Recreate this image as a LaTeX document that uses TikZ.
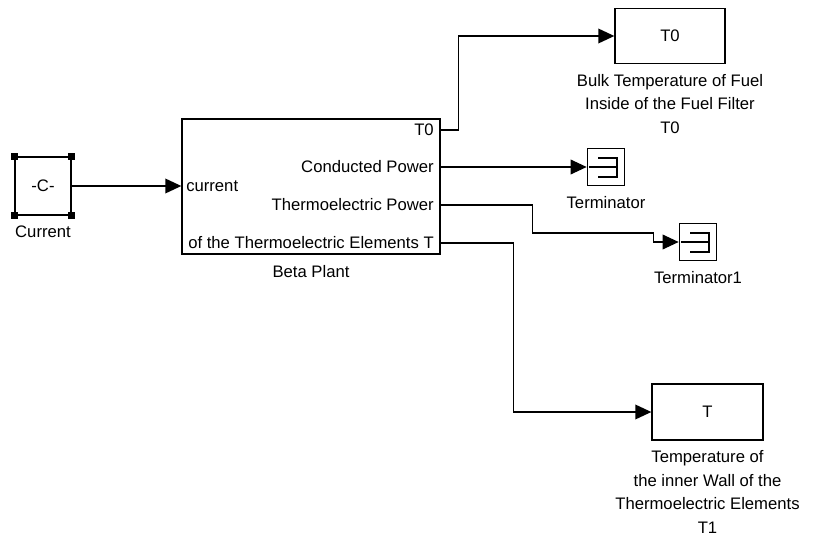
\documentclass[tikz,border=0pt]{standalone}
\usepackage{fontspec}
\setmainfont{Liberation Sans}
\usetikzlibrary{positioning,arrows.meta,calc}
\newcommand{\simfont}{\fontsize{12.5}{17.6}\selectfont}
\tikzset{
  blk/.style     ={draw, line width=1pt, inner sep=0pt, font=\simfont},
  blklbl/.style  ={font=\simfont, align=center, inner sep=0pt},
  portlbl/.style ={font=\simfont, inner sep=0pt},
  handle/.style  ={fill=black, inner sep=0pt, minimum size=5pt},
  sigarr/.style  ={-{Triangle[length=12pt,width=11pt]}, line width=1pt},
  termicon/.style={line width=0.8pt},
}

\begin{document}
\begin{tikzpicture}[x=0.75pt, y=-0.75pt, node distance=7.5pt]
\useasboundingbox[fill=white] (0,0) rectangle (818,539);

\node[blk, minimum width=42pt, minimum height=43.5pt] (cur) at (43,186) {-C-};
\node[blk, minimum width=193.5pt, minimum height=101.25pt] (beta) at (311,186.5) {};
\node[blk, minimum width=82.5pt, minimum height=41.25pt] (t0blk) at (670,36) {T0};
\node[blk, minimum size=28pt] (term) at (606,167) {};
\node[blk, minimum size=28pt] (term1) at (698,242) {};
\node[blk, minimum width=83.25pt, minimum height=42pt] (tblk) at (707.5,412) {T};

\foreach \a in {north west,north east,south west,south east}
  \node[handle] at (cur.\a) {};
\foreach \t in {term,term1} {
  \draw[termicon] ($(\t.center)+(-8,-9)$) -- ++(19,0) -- ++(0,19) -- ++(-19,0);
  \draw[termicon] ($(\t.center)+(-17,0)$) -- ++(28,0);
}

\node[portlbl, anchor=west] (pin) at (186,186) {current};
\node[portlbl, anchor=east] (pt0) at (434,130) {T0};
\node[portlbl, anchor=east] (pcond) at (434,167) {Conducted Power};
\node[portlbl, anchor=east] (ptep) at (434,205) {Thermoelectric Power};
\begin{scope}
\clip (beta.north west) rectangle (beta.south east);
\node[portlbl, anchor=east] (pelem) at (434,243) {of the Thermoelectric Elements T};
\end{scope}

\node[blklbl, below=of cur] (curlbl) {Current};
\node[blklbl, below=of beta] (betalbl) {Beta Plant};
\node[blklbl, below=of t0blk] (t0lbl) {Bulk Temperature of Fuel\\Inside of the Fuel Filter\\T0};
\node[blklbl, below=of term] (termlbl) {Terminator};
\node[blklbl, below=of term1] (term1lbl) {Terminator1};
\node[blklbl, below=of tblk] (tlbl) {Temperature of\\the inner Wall of the\\Thermoelectric Elements\\T1};

\draw[sigarr] (cur.east) -- (cur.east -| beta.west);
\draw[sigarr] (beta.east |- pt0) -- ++(18,0) |- (t0blk.west);
\draw[sigarr] (beta.east |- pcond) -- (term.west);
\draw[sigarr] (beta.east |- ptep) -- ++(92,0) -- ++(0,28) -- ++(121,0) -- ++(0,9) -- (term1.west);
\draw[sigarr] (beta.east |- pelem) -- ++(73,0) |- (tblk.west);
\end{tikzpicture}
\end{document}
